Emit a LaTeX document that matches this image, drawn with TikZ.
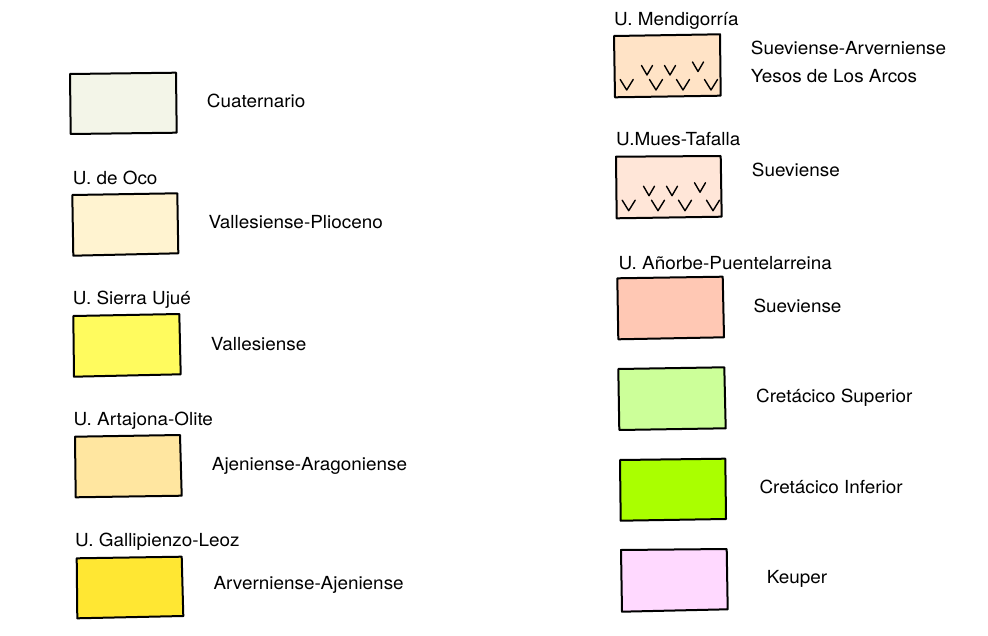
\documentclass[tikz,border=0pt]{standalone}
\usepackage{fontspec}
\setmainfont[FakeStretch=1.05]{TeX Gyre Heros}
\definecolor{cCua}{HTML}{F3F5E8}
\definecolor{cOco}{HTML}{FFF3D0}
\definecolor{cUju}{HTML}{FFFB5E}
\definecolor{cArt}{HTML}{FFE6A0}
\definecolor{cGal}{HTML}{FFE733}
\definecolor{cMen}{HTML}{FFE3C6}
\definecolor{cMue}{HTML}{FFE6D8}
\definecolor{cAno}{HTML}{FFC8B4}
\definecolor{cCsu}{HTML}{CCFF99}
\definecolor{cCin}{HTML}{AAFF00}
\definecolor{cKeu}{HTML}{FFD9FF}
\tikzset{
  legbox/.style={draw=black, line width=2pt, line join=round},
  lbl/.style={anchor=base west, inner sep=0pt, font=\fontsize{18}{21}\selectfont, text=black},
  vmark/.style={draw=black, line width=1.4pt, line cap=round, line join=round},
}
\newcommand{\legquad}[6]{% name, color, TL, TR, BR, BL
  \coordinate (#1-tl) at #3; \coordinate (#1-tr) at #4;
  \coordinate (#1-br) at #5; \coordinate (#1-bl) at #6;
  \draw[legbox, fill=#2] (#1-tl) -- (#1-tr) -- (#1-br) -- (#1-bl) -- cycle;}
\newcommand{\vpat}[1]{% V pattern relative to top-left corner
  \begin{scope}[shift={(#1)}]
    \foreach \cx in {12.7,42,69,97} {\draw[vmark] (\cx-6.5,43.5) -- (\cx,54) -- (\cx+6.5,43.5);}
    \foreach \cx/\cy in {33/29.5,56/29.5,84/26} {\draw[vmark] (\cx-5.5,\cy) -- (\cx,\cy+9.5) -- (\cx+5.5,\cy);}
  \end{scope}}
\begin{document}
\begin{tikzpicture}[x=1pt,y=-1pt]
\useasboundingbox (0,0) rectangle (988,636);
% left column
\legquad{cua}{cCua}{(70,74)}{(176,72.7)}{(176.7,132.7)}{(70.7,134)}
\node[lbl] (tcua) at (206.7,107.7) {Cuaternario};

\node[lbl] (hoco) at (72.7,185) {U. de Oco};
\legquad{oco}{cOco}{(72.3,195)}{(177.3,193.3)}{(178.3,253.3)}{(73.3,255.7)}
\node[lbl] (toco) at (208.3,228.3) {Vallesiense-Plioceno};

\node[lbl] (huju) at (72.7,305) {U. Sierra Ujué};
\legquad{uju}{cUju}{(73.3,316)}{(179.3,314)}{(180.7,374.3)}{(74,376.7)}
\node[lbl] (tuju) at (210.7,350) {Vallesiense};

\node[lbl] (hart) at (73.3,425) {U. Artajona-Olite};
\legquad{art}{cArt}{(75,436.7)}{(180,435)}{(181.7,495.7)}{(75.7,497.3)}
\node[lbl] (tart) at (211.7,470) {Ajeniense-Aragoniense};

\node[lbl] (hgal) at (75,546.7) {U. Gallipienzo-Leoz};
\legquad{gal}{cGal}{(76.7,558.3)}{(181.7,556.7)}{(183.3,616)}{(77.3,618.3)}
\node[lbl] (tgal) at (213.3,589.3) {Arverniense-Ajeniense};

% right column
\node[lbl] (hmen) at (614,26) {U. Mendigorría};
\legquad{men}{cMen}{(614,36)}{(720,34.3)}{(720.7,95.7)}{(615,97.3)}
\vpat{614,36}
\node[lbl] (tmen1) at (750.7,55) {Sueviense-Arverniense};
\node[lbl] (tmen2) at (750.7,83) {Yesos de Los Arcos};

\node[lbl] (hmue) at (616,146) {U.Mues-Tafalla};
\legquad{mue}{cMue}{(616,156.7)}{(720.7,156)}{(721.7,216.7)}{(616.7,218.3)}
\vpat{616,156.7}
\node[lbl] (tmue) at (751.7,176.7) {Sueviense};

\node[lbl] (hano) at (618.3,270) {U. Añorbe-Puentelarreina};
\legquad{ano}{cAno}{(617.3,278.3)}{(722.7,276.7)}{(724,337.3)}{(618.3,339.3)}
\node[lbl] (tano) at (753.3,313) {Sueviense};

\legquad{csu}{cCsu}{(618.3,369)}{(724.3,367.3)}{(725.7,428.3)}{(619.3,430)}
\node[lbl] (tcsu) at (756,402) {Cretácico Superior};

\legquad{cin}{cCin}{(620,460)}{(725.3,458.7)}{(726,519)}{(620.7,520.7)}
\node[lbl] (tcin) at (759.3,493) {Cretácico Inferior};

\legquad{keu}{cKeu}{(621,550)}{(726.7,549)}{(727.7,609.3)}{(622,611.7)}
\node[lbl] (tkeu) at (766.7,583.3) {Keuper};
\end{tikzpicture}
\end{document}
